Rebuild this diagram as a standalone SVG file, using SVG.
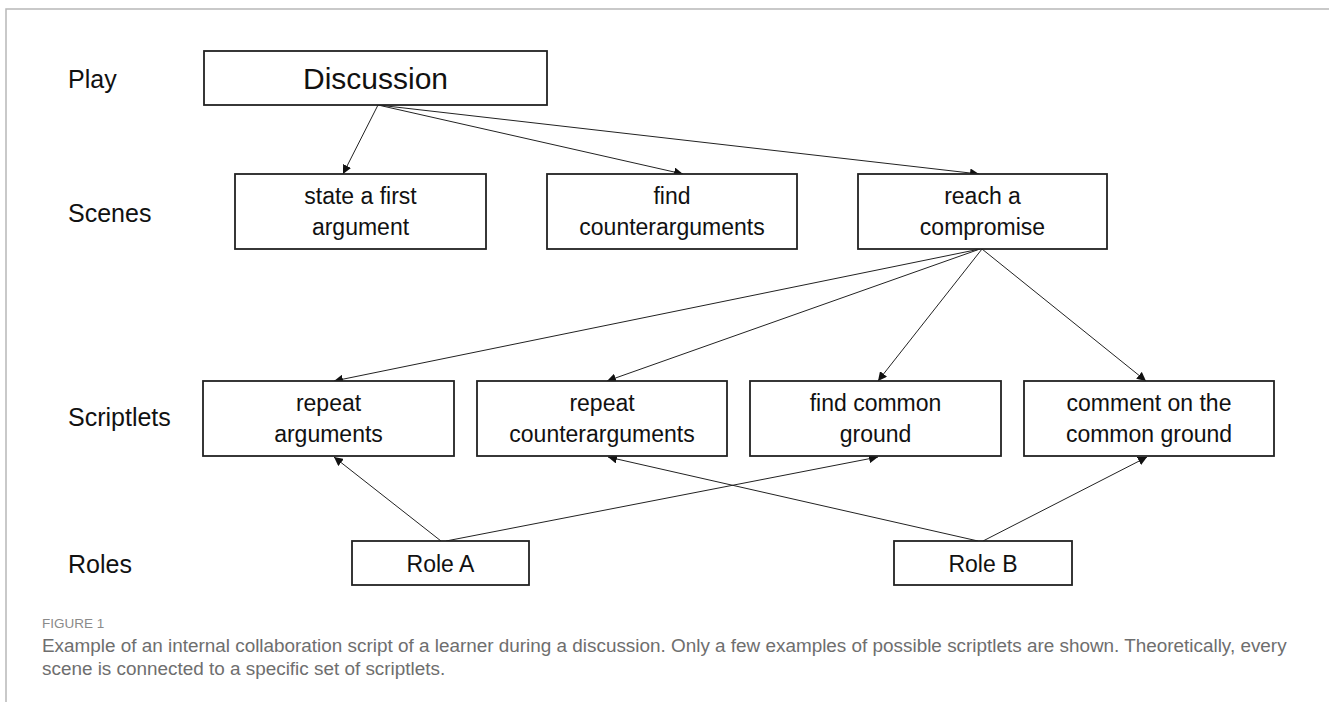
<svg xmlns="http://www.w3.org/2000/svg" width="1329" height="702" viewBox="0 0 1329 702">
  <style>
    .box { fill: #ffffff; stroke: #222222; stroke-width: 1.8; }
    .lbl { font-family: "Liberation Sans", Arial, sans-serif; font-size: 25px; fill: #111111; }
    .txt { font-family: "Liberation Sans", Arial, sans-serif; font-size: 23px; fill: #111111; text-anchor: middle; }
    .big { font-family: "Liberation Sans", Arial, sans-serif; font-size: 30px; fill: #111111; text-anchor: middle; }
    .edge { stroke: #222222; stroke-width: 1; fill: none; marker-end: url(#arr); }
    .frame { stroke: #b8b8b8; stroke-width: 1.5; fill: none; }
    .fig { font-family: "Liberation Sans", Arial, sans-serif; font-size: 13.5px; fill: #8a8a8a; }
    .cap { font-family: "Liberation Sans", Arial, sans-serif; font-size: 18.9px; fill: #6e6e6e; }
  </style>
  <defs>
    <marker id="arr" viewBox="0 0 10 10" refX="10" refY="5" markerWidth="9" markerHeight="9" markerUnits="userSpaceOnUse" orient="auto">
      <path d="M0,0 L10,5 L0,10 z" fill="#111111"/>
    </marker>
  </defs>
  <rect width="1329" height="702" fill="#ffffff"/>
  <path class="frame" d="M6,702 L6,9 L1329,9"/>

  <g id="row-labels">
    <text class="lbl" x="68" y="88">Play</text>
    <text class="lbl" x="68" y="222">Scenes</text>
    <text class="lbl" x="68" y="426">Scriptlets</text>
    <text class="lbl" x="68" y="573">Roles</text>
  </g>

  <g id="connectors">
    <line class="edge" x1="378" y1="105" x2="343" y2="174"/>
    <line class="edge" x1="378" y1="105" x2="683" y2="174"/>
    <line class="edge" x1="378" y1="105" x2="979" y2="174"/>
    <line class="edge" x1="980" y1="249" x2="334" y2="381"/>
    <line class="edge" x1="980" y1="249" x2="607" y2="381"/>
    <line class="edge" x1="982" y1="249" x2="878" y2="381"/>
    <line class="edge" x1="982" y1="249" x2="1146" y2="381"/>
    <line class="edge" x1="441" y1="541" x2="334" y2="457"/>
    <line class="edge" x1="446" y1="541" x2="878" y2="457"/>
    <line class="edge" x1="978" y1="541" x2="608" y2="457"/>
    <line class="edge" x1="983" y1="541" x2="1147" y2="457"/>
  </g>

  <g id="discussion">
    <rect class="box" x="204" y="51" width="343" height="54"/>
    <text class="big" x="375.5" y="89">Discussion</text>
  </g>

  <g id="state-first-argument">
    <rect class="box" x="235" y="174" width="251" height="75"/>
    <text class="txt" x="360.5" y="204">state a first</text>
    <text class="txt" x="360.5" y="235">argument</text>
  </g>
  <g id="find-counterarguments">
    <rect class="box" x="547" y="174" width="250" height="75"/>
    <text class="txt" x="672" y="204">find</text>
    <text class="txt" x="672" y="235">counterarguments</text>
  </g>
  <g id="reach-compromise">
    <rect class="box" x="858" y="174" width="249" height="75"/>
    <text class="txt" x="982.5" y="204">reach a</text>
    <text class="txt" x="982.5" y="235">compromise</text>
  </g>

  <g id="repeat-arguments">
    <rect class="box" x="203" y="381" width="251" height="75"/>
    <text class="txt" x="328.5" y="411">repeat</text>
    <text class="txt" x="328.5" y="442">arguments</text>
  </g>
  <g id="repeat-counterarguments">
    <rect class="box" x="477" y="381" width="250" height="75"/>
    <text class="txt" x="602" y="411">repeat</text>
    <text class="txt" x="602" y="442">counterarguments</text>
  </g>
  <g id="find-common-ground">
    <rect class="box" x="750" y="381" width="251" height="75"/>
    <text class="txt" x="875.5" y="411">find common</text>
    <text class="txt" x="875.5" y="442">ground</text>
  </g>
  <g id="comment-common-ground">
    <rect class="box" x="1024" y="381" width="250" height="75"/>
    <text class="txt" x="1149" y="411">comment on the</text>
    <text class="txt" x="1149" y="442">common ground</text>
  </g>

  <g id="role-a">
    <rect class="box" x="352" y="541" width="177" height="44"/>
    <text class="txt" x="440.5" y="572">Role A</text>
  </g>
  <g id="role-b">
    <rect class="box" x="894" y="541" width="178" height="44"/>
    <text class="txt" x="983" y="572">Role B</text>
  </g>

  <g id="caption">
    <text class="fig" x="42" y="628">FIGURE 1</text>
    <text class="cap" x="42" y="652">Example of an internal collaboration script of a learner during a discussion. Only a few examples of possible scriptlets are shown. Theoretically, every</text>
    <text class="cap" x="42" y="675">scene is connected to a specific set of scriptlets.</text>
  </g>
</svg>
